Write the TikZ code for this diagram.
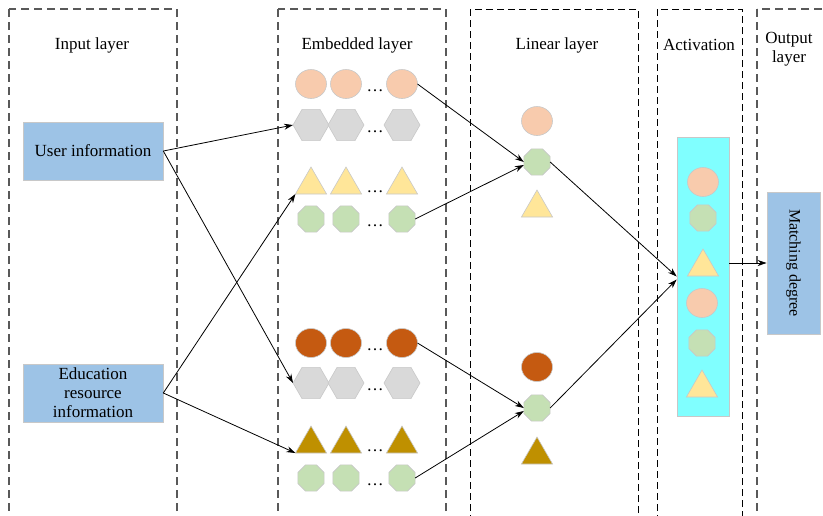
\documentclass[tikz,border=0pt]{standalone}
\usepackage{fontspec}
\setmainfont{Liberation Serif}
\usepackage{tikz}
\usetikzlibrary{arrows.meta, shapes.geometric, calc}
\usepackage{xcolor}
\definecolor{peach}{RGB}{248,203,173}
\definecolor{rust}{RGB}{197,90,17}
\definecolor{lightgrey}{RGB}{217,217,217}
\definecolor{softyellow}{RGB}{255,230,153}
\definecolor{gold}{RGB}{191,144,0}
\definecolor{softgreen}{RGB}{197,224,180}
\definecolor{softcyan}{RGB}{128,255,255}
\definecolor{softblue}{RGB}{157,195,230}
\definecolor{edgegrey}{RGB}{200,200,200}
\definecolor{dashgrey}{RGB}{89,89,89}

\begin{document}
\begin{tikzpicture}[x=1pt, y=-1pt, font=\fontsize{17}{19}\selectfont,
  shapebase/.style={draw=edgegrey, line width=0.6pt, inner sep=0pt, outer sep=0pt},
  peachball/.style={shapebase, ellipse, fill=peach, minimum width=31pt, minimum height=29pt},
  rustball/.style={shapebase, ellipse, fill=rust, minimum width=31pt, minimum height=29pt},
  greyhex/.style={shapebase, regular polygon, regular polygon sides=6, fill=lightgrey, minimum size=36pt},
  yellowtri/.style={shapebase, regular polygon, regular polygon sides=3, fill=softyellow, minimum size=36pt},
  goldtri/.style={shapebase, regular polygon, regular polygon sides=3, fill=gold, minimum size=36pt},
  greenoct/.style={shapebase, regular polygon, regular polygon sides=8, fill=softgreen, minimum size=28.5pt},
  infobox/.style={fill=softblue, draw=edgegrey, line width=0.6pt, minimum width=140pt, minimum height=58pt, inner sep=0pt, align=center},
  colgrey/.style={draw=dashgrey, line width=1.2pt, dash pattern=on 8pt off 5pt},
  colblack/.style={draw=black, line width=0.8pt, dash pattern=on 7pt off 4pt},
  arr/.style={-{Stealth[length=9pt, width=6pt]}, line width=0.8pt}]
  \useasboundingbox (0,0) rectangle (823,515);
  \clip (0,0) rectangle (823,515);
  % Columns
  \draw[colgrey] (9,9) rectangle (177,540);
  \draw[colgrey] (278,9) rectangle (446,540);
  \draw[colblack] (470,9) rectangle (638,540);
  \draw[colblack] (657,9) rectangle (742,540);
  \draw[colgrey] (757,9) rectangle (850,540);
  \node (tin) at (92,45) {Input layer};
  \node (temb) at (357,45) {Embedded layer};
  \node (tlin) at (557,45) {Linear layer};
  \node (tact) at (699,45) {Activation};
  \node[align=center] (tout) at (789,49) {Output\\layer};
  % Inputs
  \node[infobox] (user) at (93,151) {User information};
  \node[infobox] (edu) at (93,393) {Education\\resource\\information};
  % Embedded layer rows
  \foreach \y/\s/\n in {84/peachball/ea, 125/greyhex/eb, 185/yellowtri/ec, 219/greenoct/ed,
                        343/rustball/ee, 383/greyhex/ef, 444/goldtri/eg, 478/greenoct/eh} {
    \node[\s] (\n1) at (311,\y) {};
    \node[\s] (\n2) at (346,\y) {};
    \node[\s] (\n3) at (402,\y) {};
    \node[anchor=base] (\n d) at (375,\y+7.5) {\dots};
  }
  % Linear layer
  \node[peachball] (la) at (537,121) {};
  \node[greenoct] (lb) at (537,162) {};
  \node[yellowtri] (lc) at (537,208) {};
  \node[rustball] (ld) at (537,367) {};
  \node[greenoct] (le) at (537,408) {};
  \node[goldtri] (lf) at (537,455) {};
  % Activation
  \node[fill=softcyan, draw=edgegrey, line width=0.6pt, minimum width=52pt, minimum height=279pt, inner sep=0pt] (act) at (703,276.5) {};
  \node[peachball] (aa) at (703,182) {};
  \node[greenoct] (ab) at (703,218) {};
  \node[yellowtri] (ac) at (703,267) {};
  \node[peachball] (ad) at (702,303) {};
  \node[greenoct] (ae) at (702,343) {};
  \node[yellowtri] (af) at (702,388) {};
  % Output
  \node[fill=softblue, draw=edgegrey, line width=0.6pt, minimum width=142pt, minimum height=53pt, inner sep=0pt,
        rotate=-90, font=\fontsize{16}{18}\selectfont] (out) at (793.5,263) {Matching degree};
  % Connections
  \draw[arr] (user.east) -- (eb1.west);
  \draw[arr] (user.east) -- (ef1.west);
  \draw[arr] (edu.east) -- (ec1.corner 2);
  \draw[arr] (edu.east) -- (eg1.corner 2);
  \draw[arr] (ea3.east) -- (lb.west);
  \draw[arr] (ed3.east) -- ([yshift=-3pt]lb.west);
  \draw[arr] (ee3.east) -- (le.west);
  \draw[arr] (eh3.east) -- ([yshift=-3pt]le.west);
  \draw[arr] (lb.east) -- (act.west);
  \draw[arr] (le.east) -- ([yshift=-3pt]act.west);
  \draw[arr] (act.east |- out.south) -- (out.south);
\end{tikzpicture}
\end{document}
